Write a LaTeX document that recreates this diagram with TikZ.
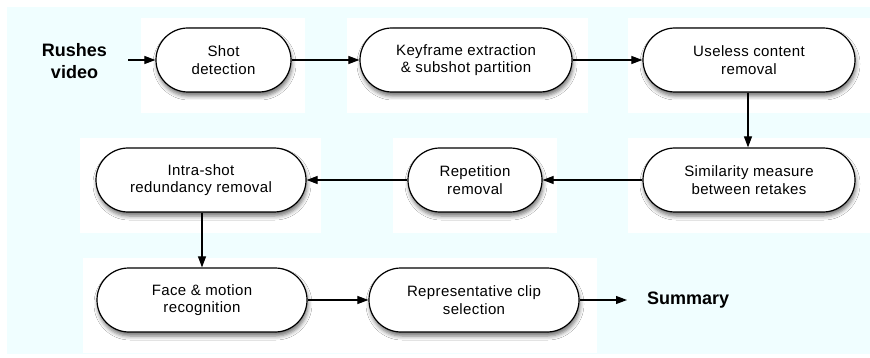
\documentclass[tikz,border=0pt]{standalone}
\usepackage{fontspec}
\setmainfont{Liberation Sans}
\newfontfamily\boxfont{Liberation Sans}[LetterSpace=2.5]
\usetikzlibrary{arrows.meta,shadows.blur}
\definecolor{bgcyan}{RGB}{240,254,255}
\begin{document}
\begin{tikzpicture}[x=1pt,y=-1pt,
  box/.style={draw=black, line width=1.2pt, fill=white, rounded corners=32pt,
    minimum height=64pt, align=center, inner sep=0pt,
    font=\boxfont\fontsize{15}{17.5}\selectfont,
    blur shadow={shadow xshift=1pt, shadow yshift=-4pt, shadow blur radius=4pt, shadow opacity=55}},
  arr/.style={line width=1.1pt, -{Triangle[length=11pt,width=8pt]}},
  lbl/.style={font=\bfseries\fontsize{18}{22}\selectfont, align=center},
  panel/.style={fill=white, draw=none}]
\useasboundingbox (0,0) rectangle (870,358);
\fill[bgcyan] (7,7) rectangle (870,354);
% white panels
\fill[panel] (141,18) rectangle (305,113);
\fill[panel] (347,18) rectangle (588,113);
\fill[panel] (628,18) rectangle (870,113);
\fill[panel] (80,138) rectangle (321,233);
\fill[panel] (393,138) rectangle (557,233);
\fill[panel] (628,138) rectangle (870,233);
\fill[panel] (83,258) rectangle (597,353);
% nodes
\node[box, minimum width=135pt] (shot) at (223.5,60) {Shot\\detection};
\node[box, minimum width=212pt] (key) at (466,60) {Keyframe extraction\\\& subshot partition};
\node[box, minimum width=212pt] (use) at (749,60) {Useless content\\removal};
\node[box, minimum width=212pt] (sim) at (749,180) {Similarity measure\\between retakes};
\node[box, minimum width=134pt] (rep) at (475,180) {Repetition\\removal};
\node[box, minimum width=210pt] (intra) at (201,180) {Intra-shot\\redundancy removal};
\node[box, minimum width=210pt] (face) at (202,300) {Face \& motion\\recognition};
\node[box, minimum width=210pt] (clip) at (474,300) {Representative clip\\selection};
\node[lbl, inner sep=0pt] (rv) at (74.5,61) {Rushes\\video};
\coordinate (rvout) at (128,60);
\node[lbl, anchor=west, inner xsep=20pt, inner ysep=0pt] (sum) at (627,300) {Summary};
% connectors
\draw[arr] (rvout) -- (shot);
\draw[arr] (shot) -- (key);
\draw[arr] (key) -- (use);
\draw[arr] (use.south -| 748,0) -- (sim.north -| 748,0);
\draw[arr] (sim) -- (rep);
\draw[arr] (rep) -- (intra);
\draw[arr] (intra.south -| 202,0) -- (face.north -| 202,0);
\draw[arr] (face) -- (clip);
\draw[arr] (clip) -- (sum);
\end{tikzpicture}
\end{document}
